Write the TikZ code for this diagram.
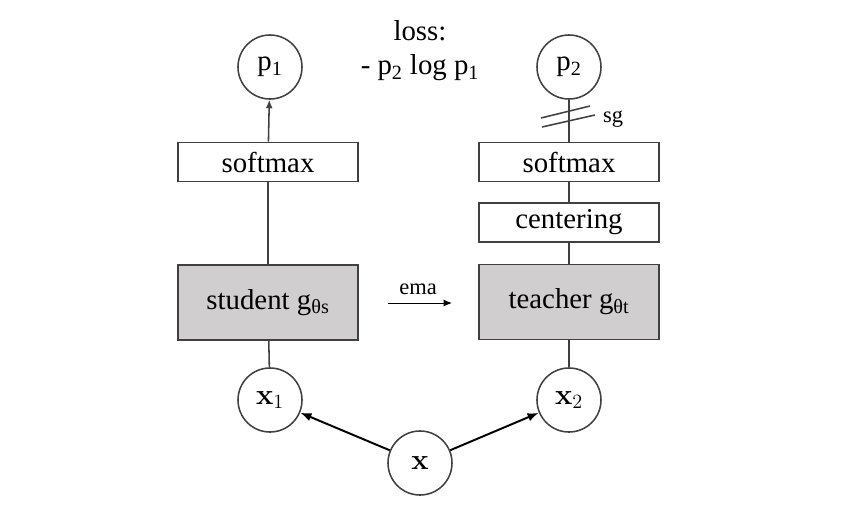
\documentclass[tikz,border=0pt]{standalone}
\usepackage[no-math]{fontspec}
\setmainfont{Liberation Serif}
\usepackage{amsmath}
\usepackage{tikz}
\usetikzlibrary{arrows.meta}

\definecolor{edgegray}{HTML}{404040}
\definecolor{boxgray}{HTML}{D0CECE}

\begin{document}
\begin{tikzpicture}[x=0.025cm, y=-0.025cm,
	every node/.style={draw=edgegray, line width=1.1pt, font=\fontsize{20.5}{24}\selectfont},
	every path/.style={draw=edgegray, line width=1.1pt},
	var/.style={circle, minimum size=1.6cm, inner sep=0pt},
	layer/.style={rectangle, minimum width=4.5cm, minimum height=0.98cm, inner sep=0pt},
	net/.style={rectangle, fill=boxgray, minimum width=4.5cm, minimum height=1.88cm, inner sep=0pt},
	plain/.style={draw=none, inner sep=0pt}]
			\path[draw=none, use as bounding box] (0,0) rectangle (844,508);
			\node[var] (p1) at (270,67){p\textsubscript{1}};
			\node[var] (p2) at (569,67){p\textsubscript{2}};
			\node[var] (x1) at (270,400){$\mathbf{x}_1$};
			\node[var] (x2) at (569,400){$\mathbf{x}_2$};
			\node[var] (x) at (420,463){$\mathbf{x}$};
			
			\node[layer] (smax1) at (268,162){softmax};
			\node[layer] (smax2) at (569,162){softmax};
			\node[layer] (center) at (569,222.5){centering};
			\node[net] (student) at (268,302.5){student g\textsubscript{θs}};
			\node[net] (teacher) at (569,302){teacher g\textsubscript{θt}};
			
			\node[plain] (loss) at (420,31){loss:};
			\node[plain] (lossf) at (420,68){- p\textsubscript{2} log p\textsubscript{1}};
			\node[plain, font=\fontsize{16}{18}\selectfont] (ema) at (418,289){ema};
			\node[plain, font=\fontsize{16}{18}\selectfont] (sg) at (613,119){sg};
			\coordinate (emaA) at (388,303);
			\coordinate (emaB) at (452,303);
			
			\draw[-{Latex[length=6pt,width=5pt]}] (smax1) -- (p1);
			\draw (student) -- (smax1);
			\draw (x1) -- (student);
			\draw (p2) -- (smax2);
			\draw (smax2) -- (center);
			\draw (center) -- (teacher);
			\draw (x2) -- (teacher);
			\draw[draw=black, line width=0.7pt, -{Latex[length=6pt,width=5pt]}] (emaA) -- (emaB);
			\draw[draw=black, line width=1.4pt, -{Latex[length=8pt,width=6pt]}] (x) -- (x1);
			\draw[draw=black, line width=1.4pt, -{Latex[length=8pt,width=6pt]}] (x) -- (x2);
			
			% stop-gradient mark
			\draw (541,118) -- (590,106);
			\draw (542,127) -- (595,115);
			\end{tikzpicture}
\end{document}
